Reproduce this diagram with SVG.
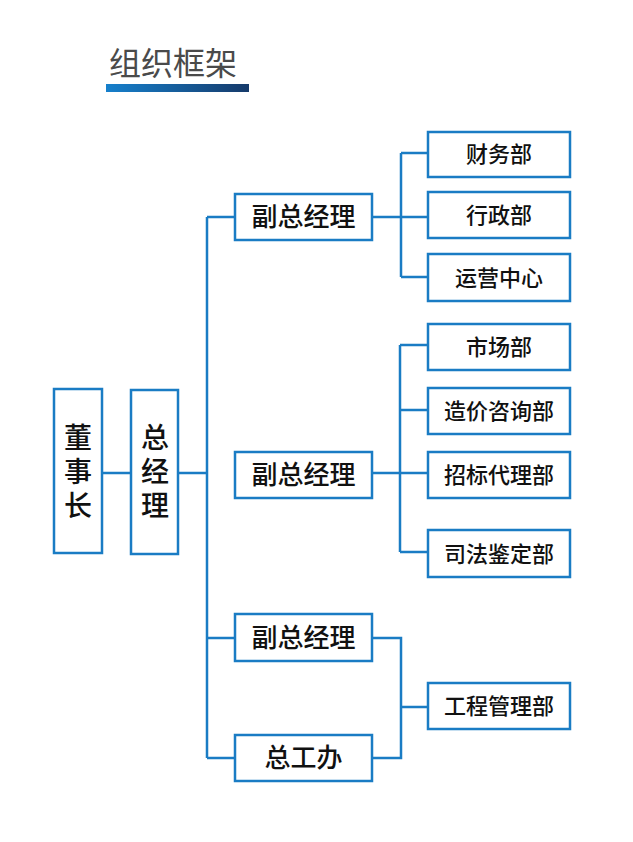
<svg xmlns="http://www.w3.org/2000/svg" width="633" height="842" viewBox="0 0 633 842">
<defs>
<linearGradient id="bar" x1="0" y1="0" x2="1" y2="0">
<stop offset="0" stop-color="#1680cc"/>
<stop offset="1" stop-color="#163a6a"/>
</linearGradient>
<style>
.box{fill:#fff;stroke:#1a7cc4;stroke-width:2.5}
.ln{fill:none;stroke:#1a7cc4;stroke-width:2.5}
.t{font-family:"Noto Sans CJK SC","Noto Sans",sans-serif;font-weight:500;fill:#111;text-anchor:middle}
.l{font-size:26px}
.s{font-size:22px}
.v{font-size:28px;writing-mode:vertical-rl;letter-spacing:6px}
</style>
</defs>
<rect width="633" height="842" fill="#fff"/>
<g id="title">
<text x="109" y="75" font-family="Noto Sans CJK SC,sans-serif" font-size="32" fill="#4a4a4a">组织框架</text>
<rect x="106" y="84" width="143" height="8" fill="url(#bar)"/>
</g>
<g id="connectors">
<path class="ln" d="M102 473H131M178 473H207M207 217V758M207 217H235M207 638H235M207 758H235"/>
<path class="ln" d="M372 217H401M401 153V277M401 153H428M401 217H428M401 277H428"/>
<path class="ln" d="M372 473H400M400 345V552M400 345H428M400 410H428M400 473H428M400 552H428"/>
<path class="ln" d="M372 638H401V758H372M401 707H428"/>
</g>
<g id="dongshizhang"><rect class="box" x="54" y="389" width="48" height="164"/>
<text class="t v" x="78" y="474">董事长</text></g>
<g id="zongjingli"><rect class="box" x="131" y="390" width="47" height="164"/>
<text class="t v" x="155" y="474">总经理</text></g>
<g id="fuzong1"><rect class="box" x="235" y="194" width="137" height="46"/><text class="t l" x="303.5" y="226">副总经理</text></g>
<g id="fuzong2"><rect class="box" x="235" y="452" width="137" height="46"/><text class="t l" x="303.5" y="484">副总经理</text></g>
<g id="fuzong3"><rect class="box" x="235" y="614" width="137" height="47"/><text class="t l" x="303.5" y="647">副总经理</text></g>
<g id="zonggongban"><rect class="box" x="235" y="735" width="137" height="46"/><text class="t l" x="303.5" y="767">总工办</text></g>
<g id="caiwu"><rect class="box" x="428" y="132" width="142" height="45"/><text class="t s" x="499" y="162">财务部</text></g>
<g id="xingzheng"><rect class="box" x="428" y="192" width="142" height="46"/><text class="t s" x="499" y="223">行政部</text></g>
<g id="yunying"><rect class="box" x="428" y="254" width="142" height="47"/><text class="t s" x="499" y="286">运营中心</text></g>
<g id="shichang"><rect class="box" x="428" y="324" width="142" height="46"/><text class="t s" x="499" y="355">市场部</text></g>
<g id="zaojia"><rect class="box" x="428" y="388" width="142" height="46"/><text class="t s" x="499" y="419">造价咨询部</text></g>
<g id="zhaobiao"><rect class="box" x="428" y="452" width="142" height="46"/><text class="t s" x="499" y="483">招标代理部</text></g>
<g id="sifa"><rect class="box" x="428" y="530" width="142" height="47"/><text class="t s" x="499" y="562">司法鉴定部</text></g>
<g id="gongcheng"><rect class="box" x="428" y="683" width="142" height="46"/><text class="t s" x="499" y="714">工程管理部</text></g>
</svg>
